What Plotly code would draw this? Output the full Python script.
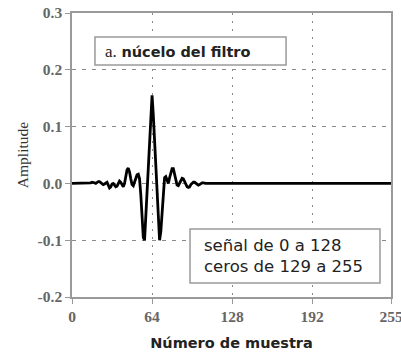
import plotly.graph_objects as go

# Filter kernel samples 0..128 (nonzero part), followed by zeros 129..255
signal = [
    0.0, 0.0, 0.0, 0.0, 0.0, 0.0, 0.0, 0.0, 0.0, 0.0,
    0.0, 0.0, 0.0, 0.0, 0.0, 0.001, 0.002, 0.002, 0.001, 0.0,
    0.002, 0.003, 0.003, 0.001, -0.001, -0.002, -0.001, 0.001, 0.002, -0.003,
    -0.008, -0.006, -0.001, 0.0, -0.003, -0.006, -0.005, 0.0, 0.004, 0.002,
    -0.003, -0.006, 0.0, 0.012, 0.024, 0.027, 0.02, 0.008, -0.002, -0.004,
    0.002, 0.01, 0.015, 0.016, 0.008, -0.02, -0.065, -0.095, -0.1, -0.06,
    -0.02, 0.03, 0.075, 0.12, 0.155, 0.12, 0.075, 0.03, -0.02, -0.06,
    -0.1, -0.085, -0.05, -0.01, 0.01, 0.012, 0.004, 0.0, 0.01, 0.02,
    0.026, 0.026, 0.018, 0.005, -0.003, -0.004, 0.0, 0.006, 0.009, 0.008,
    0.003, -0.002, -0.006, -0.007, -0.006, -0.002, 0.001, 0.002, 0.002, 0.0,
    -0.002, -0.003, -0.002, 0.0, 0.001, 0.001, 0.0, 0.0, 0.0, 0.0,
    0.0, 0.0, 0.0, 0.0, 0.0, 0.0, 0.0, 0.0, 0.0, 0.0,
    0.0, 0.0, 0.0, 0.0, 0.0, 0.0, 0.0, 0.0, 0.0,
]
zeros = [0.0] * 127
kernel = signal + zeros
samples = list(range(len(kernel)))

x_ticks = [0, 64, 128, 192, 255]
y_ticks = [-0.2, -0.1, 0.0, 0.1, 0.2, 0.3]
y_tick_text = ["-0.2", "-0.1", "0.0", "0.1", "0.2", "0.3"]

GRID = "#8a8a8a"
FRAME = "#9a9a9a"
TICKFONT = dict(family="Liberation Serif", size=15.5, color="#666")

fig = go.Figure()
fig.add_trace(go.Scatter(
    x=samples, y=kernel, mode="lines",
    line=dict(color="black", width=2.8),
    hoverinfo="skip", showlegend=False,
))

fig.update_layout(
    width=401, height=352,
    margin=dict(l=72, r=10, t=13, b=55),
    paper_bgcolor="white", plot_bgcolor="white",
    showlegend=False,
    xaxis=dict(
        range=[0, 255], tickvals=x_ticks,
        ticktext=[f"<b>{v}</b>" for v in x_ticks],
        showgrid=True, gridcolor=GRID, gridwidth=1.4, griddash="2px,6px",
        showline=True, linecolor=FRAME, linewidth=1.5, mirror=True,
        ticks="outside", ticklen=5, tickcolor=FRAME, tickwidth=1.2,
        zeroline=False, tickfont=TICKFONT, automargin=False,
        ticklabeloverflow="allow",
        title=dict(text="<b>Número de muestra</b>",
                   font=dict(family="DejaVu Sans", size=14.5, color="#222"),
                   standoff=14),
    ),
    yaxis=dict(
        range=[-0.2, 0.3], tickvals=y_ticks,
        ticktext=[f"<b>{t}</b>" for t in y_tick_text],
        showgrid=True, gridcolor=GRID, gridwidth=1.4, griddash="4px,6px",
        showline=True, linecolor=FRAME, linewidth=1.5, mirror=True,
        ticks="outside", ticklen=5, tickcolor=FRAME, tickwidth=1.2,
        zeroline=False, tickfont=TICKFONT, automargin=False,
        ticklabeloverflow="allow",
        title=dict(text="Amplitude",
                   font=dict(family="Liberation Serif", size=15.5, color="#333"),
                   standoff=5),
    ),
)

# Caption boxes
fig.add_shape(type="rect", xref="paper", yref="paper",
              x0=0.072, x1=0.671, y0=0.817, y1=0.9155,
              line=dict(color=FRAME, width=1.5), fillcolor="white")
fig.add_shape(type="rect", xref="paper", yref="paper",
              x0=0.370, x1=0.9655, y0=0.0493, y1=0.2394,
              line=dict(color=FRAME, width=1.5), fillcolor="white")

fig.add_annotation(
    xref="paper", yref="paper", x=0.097, y=0.866,
    xanchor="left", yanchor="middle", showarrow=False,
    text="<span style='font-family:Liberation Serif;font-size:17px'>a.</span> "
         "<b>núcelo del filtro</b>",
    font=dict(family="DejaVu Sans", size=14.5, color="#222"),
)
fig.add_annotation(
    xref="paper", yref="paper", x=0.4075, y=0.144,
    xanchor="left", yanchor="middle", showarrow=False, align="left",
    text="señal de 0 a 128<br>ceros de 129 a 255",
    font=dict(family="DejaVu Sans", size=16.5, color="#222"),
)

fig.write_html("out.html")
